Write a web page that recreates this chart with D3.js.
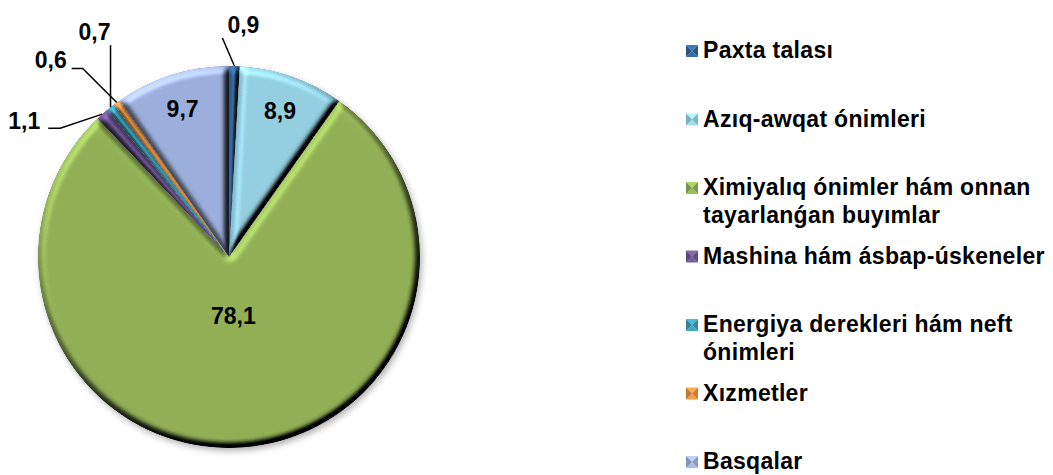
<!DOCTYPE html>
<html lang="en">
<head>
    <meta charset="UTF-8">
    <title>Pie chart</title>
    <script src="https://d3js.org/d3.v7.min.js"></script>
    <style>
        body { margin: 0; background: #fff; }
        svg { display: block; }
        text { font-family: "Liberation Sans", Arial, sans-serif; font-weight: bold; font-size: 23px; fill: #000; }
        .leader { fill: none; stroke: #000; stroke-width: 1.5px; }
    </style>
</head>
<body>
    <svg></svg>
    <script>
        // Data
        const categories = [
            "Paxta talası",
            "Azıq-awqat ónimleri",
            "Ximiyalıq ónimler hám onnan tayarlanǵan buyımlar",
            "Mashina hám ásbap-úskeneler",
            "Energiya derekleri hám neft ónimleri",
            "Xızmetler",
            "Basqalar"
        ];
        const values = [0.9, 8.9, 78.1, 1.1, 0.7, 0.6, 9.7];
        const valueLabels = ["0,9", "8,9", "78,1", "1,1", "0,7", "0,6", "9,7"];
        const colors = ["#34659b", "#95d0e2", "#92b157", "#6e5694", "#3c9db5", "#e8903f", "#9dafdc"];

        // Label layout: inside labels sit at a fraction of the radius,
        // outside ones get a leader (elbow, end) and a text offset from the end.
        const labelLayout = [
            { out: true, pts: [[-12, -28]], text: [5, -5], anchor: "start" },
            { out: false, k: 0.81 },
            { out: false, k: 0.31 },
            { out: true, pts: [[-42, 14], [-54, 14]], text: [-8, 1], anchor: "end" },
            { out: true, pts: [[0, -62]], text: [0, -5], anchor: "end" },
            { out: true, pts: [[-34, -34], [-45, -34]], text: [-5, 0], anchor: "end" },
            { out: false, k: 0.81 }
        ];

        const width = 1053, height = 475;
        const cx = 229, cy = 257, radius = 191;

        const svg = d3.select("svg").attr("width", width).attr("height", height);
        const defs = svg.append("defs");

        // bevel lighting per slice
        const bevel = defs.append("filter").attr("id", "bevel")
            .attr("filterUnits", "userSpaceOnUse")
            .attr("x", -260).attr("y", -260).attr("width", 520).attr("height", 520)
            .attr("color-interpolation-filters", "sRGB");
        bevel.append("feGaussianBlur").attr("in", "SourceAlpha").attr("stdDeviation", 3.5).attr("result", "blur");
        bevel.append("feDiffuseLighting").attr("in", "blur").attr("surfaceScale", 8)
            .attr("diffuseConstant", 1).attr("lighting-color", "#fff").attr("result", "light")
            .append("feDistantLight").attr("azimuth", 240).attr("elevation", 50);
        bevel.append("feComposite").attr("in", "SourceGraphic").attr("in2", "light")
            .attr("operator", "arithmetic").attr("k1", 1.3).attr("k2", 0).attr("k3", 0).attr("k4", 0)
            .attr("result", "lit");
        bevel.append("feComposite").attr("in", "lit").attr("in2", "SourceAlpha").attr("operator", "in");

        const shadow = defs.append("filter").attr("id", "shadow")
            .attr("x", "-10%").attr("y", "-10%").attr("width", "120%").attr("height", "120%");
        shadow.append("feDropShadow").attr("dx", 2).attr("dy", 3).attr("stdDeviation", 3)
            .attr("flood-color", "#000").attr("flood-opacity", 0.3);

        const pie = d3.pie().sort(null).value(d => d);
        const arcs = pie(values);
        const arc = d3.arc().innerRadius(0).outerRadius(radius);

        const g = svg.append("g").attr("transform", `translate(${cx},${cy})`);
        const slices = g.append("g").attr("filter", "url(#shadow)");

        slices.selectAll("path")
            .data(arcs)
            .join("path")
            .attr("d", arc)
            .attr("fill", (d, i) => colors[i])
            .attr("filter", "url(#bevel)");

        // labels
        const midPoint = (d, r) => {
            const a = (d.startAngle + d.endAngle) / 2;
            return [r * Math.sin(a), -r * Math.cos(a)];
        };

        arcs.forEach((d, i) => {
            const lay = labelLayout[i];
            if (!lay.out) {
                const p = midPoint(d, radius * lay.k);
                g.append("text")
                    .attr("x", p[0]).attr("y", p[1]).attr("dy", "0.35em")
                    .attr("text-anchor", "middle")
                    .text(valueLabels[i]);
            } else {
                const start = midPoint(d, radius);
                const pts = [start].concat(lay.pts.map(o => [start[0] + o[0], start[1] + o[1]]));
                g.append("path").attr("class", "leader").attr("d", d3.line()(pts));
                const end = pts[pts.length - 1];
                g.append("text")
                    .attr("x", end[0] + lay.text[0]).attr("y", end[1] + lay.text[1])
                    .attr("text-anchor", lay.anchor)
                    .text(valueLabels[i]);
            }
        });

        // legend
        const legendY = d3.scaleLinear().domain([0, categories.length - 1]).range([58, 469]);
        const legend = svg.append("g");
        const maxW = 355, lineH = 28;

        categories.forEach((name, i) => {
            const y = legendY(i);
            const item = legend.append("g").attr("transform", `translate(686,${y})`);
            // small pyramid-style marker
            const s = 12, x0 = 0, y0 = -13;
            const c = d3.color(colors[i]);
            const tri = [
                [[x0, y0], [x0 + s, y0], [x0 + s / 2, y0 + s / 2], c.brighter(0.5)],
                [[x0, y0 + s], [x0 + s, y0 + s], [x0 + s / 2, y0 + s / 2], c.brighter(0.2)],
                [[x0, y0], [x0, y0 + s], [x0 + s / 2, y0 + s / 2], c.darker(0.5)],
                [[x0 + s, y0], [x0 + s, y0 + s], [x0 + s / 2, y0 + s / 2], c.darker(0.4)]
            ];
            tri.forEach(t => item.append("path")
                .attr("d", d3.line()([t[0], t[1], t[2]]) + "Z")
                .attr("fill", t[3]));

            const text = item.append("text").attr("x", 17).attr("y", 0).style("letter-spacing", "0.3px");
            const words = name.split(" ");
            let line = [], tspan = text.append("tspan").attr("x", 17).attr("dy", 0);
            words.forEach(w => {
                line.push(w);
                tspan.text(line.join(" "));
                if (tspan.node().getComputedTextLength() > maxW && line.length > 1) {
                    line.pop();
                    tspan.text(line.join(" "));
                    line = [w];
                    tspan = text.append("tspan").attr("x", 17).attr("dy", lineH).text(w);
                }
            });
        });
    </script>
</body>
</html>
